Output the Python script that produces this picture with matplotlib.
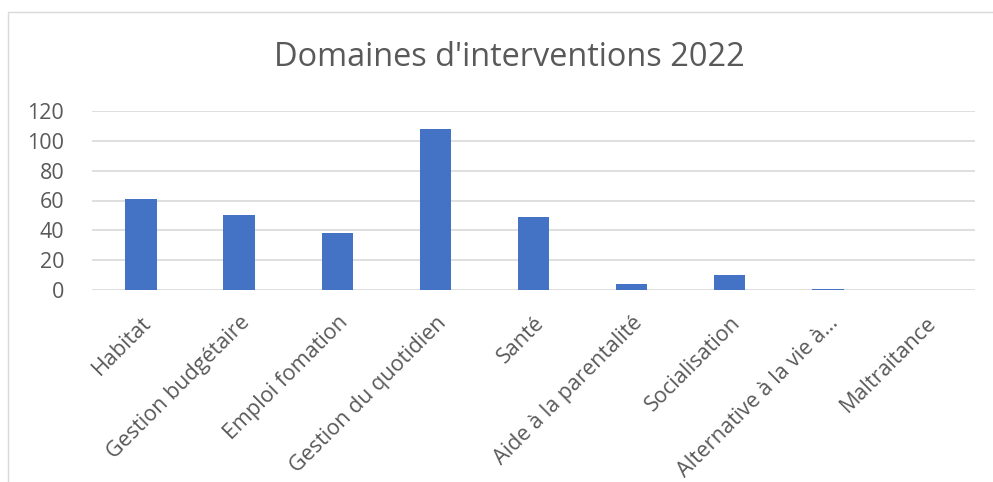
import matplotlib
matplotlib.use("Agg")
import matplotlib.pyplot as plt
from matplotlib.patches import Rectangle

CATEGORIES = ["Habitat", "Gestion budgétaire", "Emploi fomation", "Gestion du quotidien",
              "Santé", "Aide à la parentalité", "Socialisation",
              "Alternative à la vie à…", "Maltraitance"]
VALUES = [61, 50, 38, 108, 49, 4, 10, 1, 0]
YTICKS = [0, 20, 40, 60, 80, 100, 120]

TEXT = "#595959"
BAR = "#4472C4"
GRID = "#D9D9D9"

plt.rcParams["font.family"] = ["Open Sans", "DejaVu Sans"]

fig = plt.figure(figsize=(9.93, 4.82), dpi=100)
fig.patches.append(Rectangle((8 / 993, -0.01), 1.0, 1 - 12 / 482 + 0.01,
                             transform=fig.transFigure, fill=False,
                             edgecolor=GRID, linewidth=1.0))
ax = fig.add_axes([92 / 993, 1 - 290 / 482, (975 - 92) / 993, (290 - 111) / 482])

x = range(len(CATEGORIES))
ax.bar(x, VALUES, width=0.32, color=BAR, zorder=3)
ax.set_xlim(-0.5, len(CATEGORIES) - 0.5)
ax.set_ylim(0, 120)
ax.set_yticks(YTICKS)
ax.set_xticks(list(x))
ax.set_xticklabels(CATEGORIES, rotation=45, ha="right", rotation_mode="anchor")
ax.tick_params(axis="both", length=0, labelsize=15.5, colors=TEXT)
ax.tick_params(axis="y", pad=20)
ax.tick_params(axis="x", pad=16)
ax.grid(axis="y", color=GRID, linewidth=1.2, zorder=0)
for s in ax.spines.values():
    s.set_visible(False)

fig.text(0.513, 1 - 57 / 482, "Domaines d'interventions 2022", ha="center", va="center",
         fontsize=23.4, color=TEXT)

fig.savefig("out.png", dpi=100)
